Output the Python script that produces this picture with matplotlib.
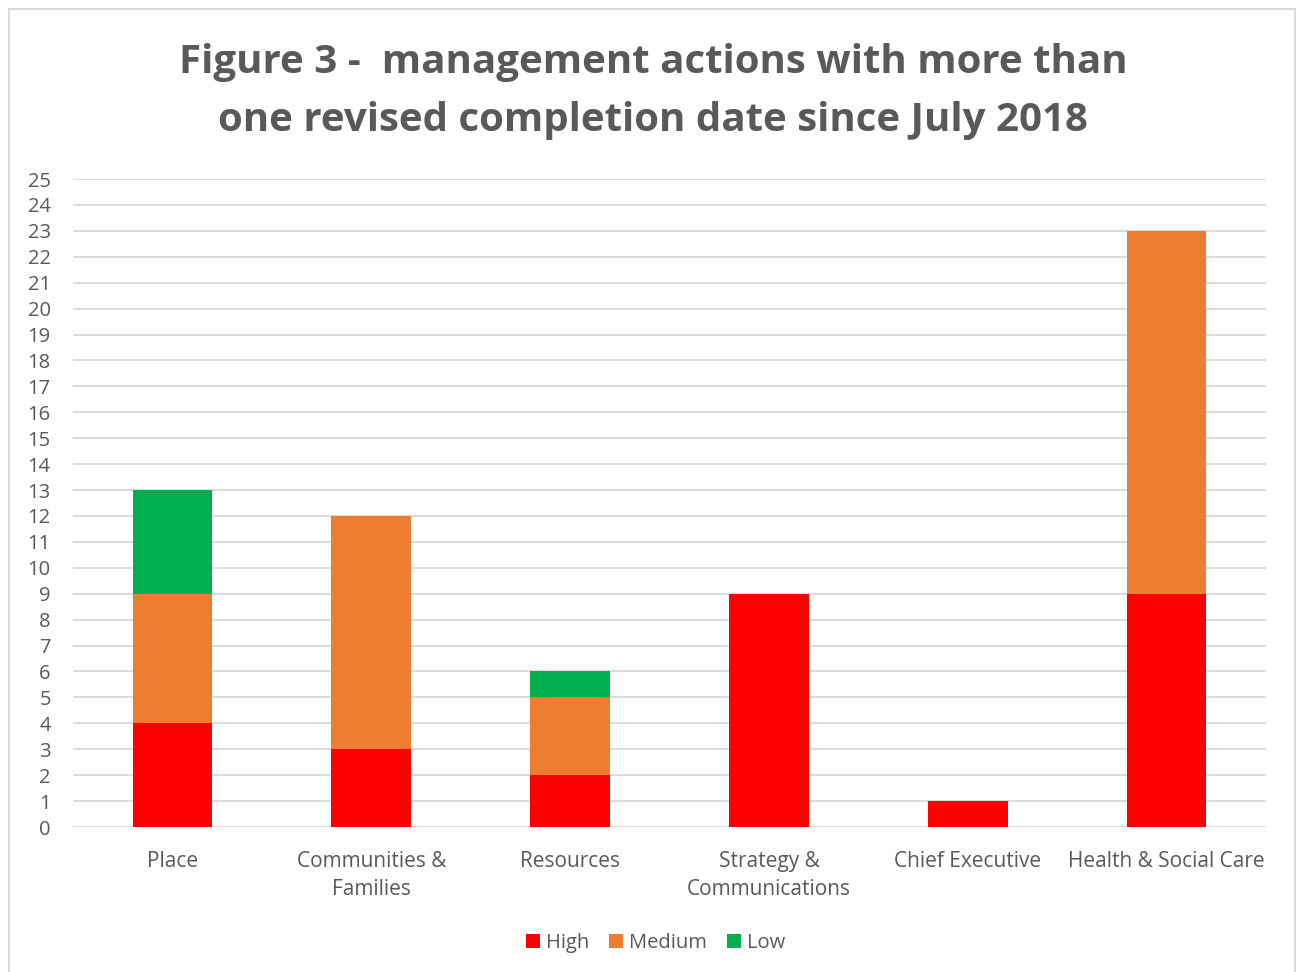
import matplotlib.pyplot as plt
import numpy as np
from matplotlib.patches import Rectangle

categories = ["Place", "Communities &\nFamilies", "Resources", "Strategy &\nCommunications",
              "Chief Executive", "Health & Social Care"]
high = [4, 3, 2, 9, 1, 9]
medium = [5, 9, 3, 0, 0, 14]
low = [4, 0, 1, 0, 0, 0]

plt.rcParams['font.family'] = ['Open Sans', 'DejaVu Sans']
txt = "#595959"

fig = plt.figure(figsize=(13.01, 9.72), dpi=100)
fig.patches.append(Rectangle((9 / 1301, -0.1), 1286 / 1301, 1.1 - 9 / 972, transform=fig.transFigure,
                             fill=False, edgecolor="#d9d9d9", linewidth=1.5))
ax = fig.add_axes([73 / 1301, 1 - 827 / 972, 1193 / 1301, 648 / 972])

x = np.arange(len(categories))
w = 0.4
ax.bar(x, high, w, color="#ff0000", label="High", zorder=3)
ax.bar(x, medium, w, bottom=high, color="#ed7d31", label="Medium", zorder=3)
ax.bar(x, low, w, bottom=np.array(high) + np.array(medium), color="#00b050", label="Low", zorder=3)

ax.set_xlim(-0.5, 5.5)
ax.set_ylim(0, 25)
ax.set_yticks(range(0, 26))
ax.grid(axis="y", color="#d9d9d9", linewidth=1.3, zorder=0)
ax.set_xticks(x)
ax.set_xticklabels(categories, fontsize=15, color=txt, linespacing=1.48)
ax.tick_params(axis="y", labelsize=14.5, labelcolor=txt, length=0, pad=16)
ax.tick_params(axis="x", length=0, pad=17)
for s in ax.spines.values():
    s.set_visible(False)

fig.text(0.502, 0.906, "Figure 3 -  management actions with more than\none revised completion date since July 2018",
         ha="center", va="center", fontsize=29, fontweight="bold", color=txt, linespacing=1.64)

fig.legend(loc="center", bbox_to_anchor=(0.504, 0.030), ncol=3, frameon=False, fontsize=14.5,
           handlelength=0.7, handleheight=0.7, handletextpad=0.3, columnspacing=1.0, labelcolor=txt)

fig.savefig("out.png", dpi=100)
